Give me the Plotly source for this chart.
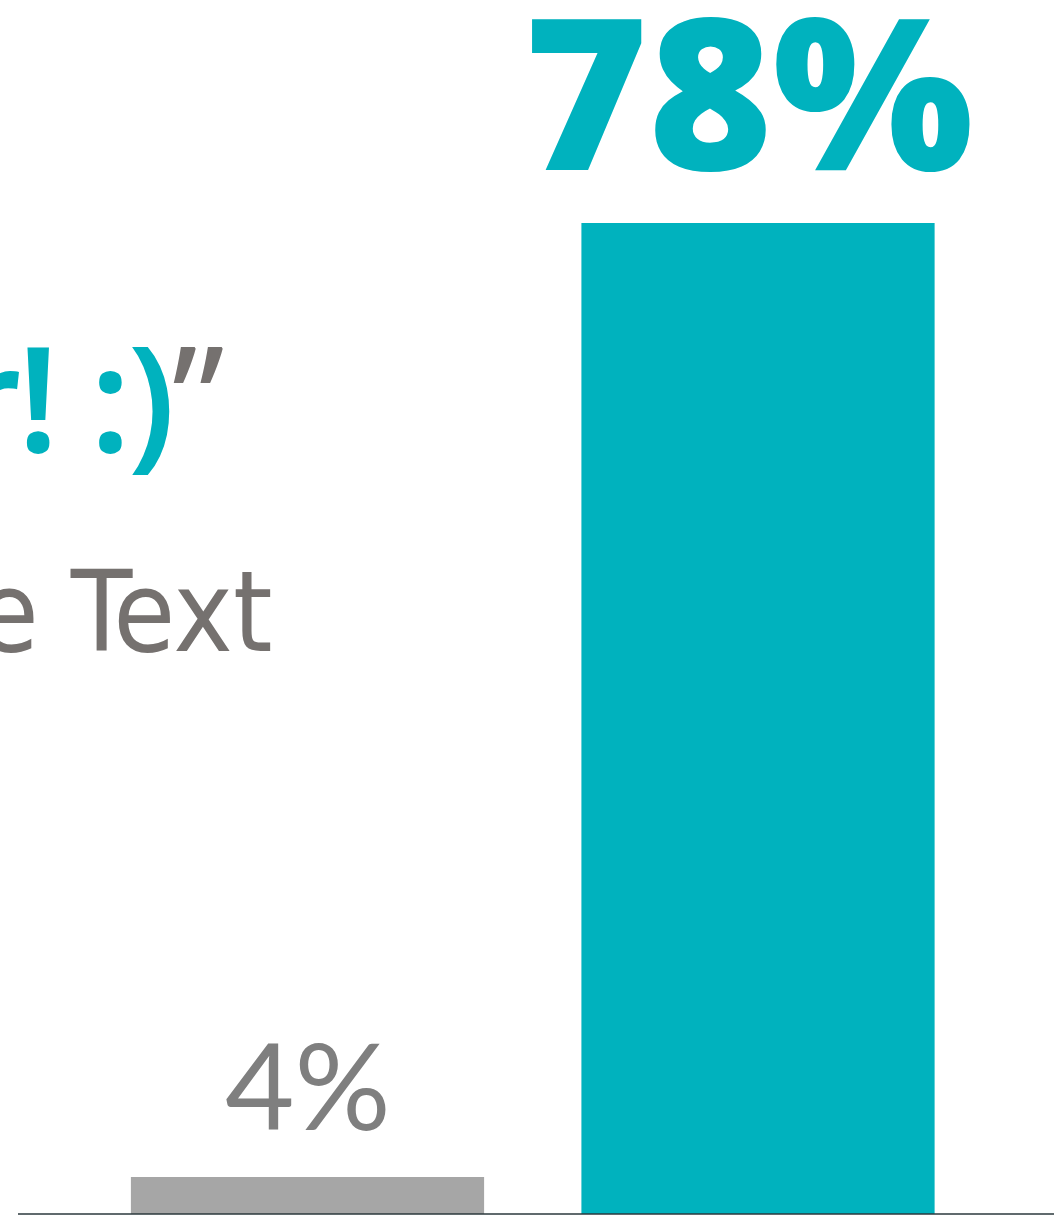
import plotly.graph_objects as go

categories = ["Other", "Yes"]
values = [4, 78]
value_labels = ["4%", "78%"]
bar_colors = ["#A6A6A6", "#00B2BE"]
label_colors = ["#7F7F7F", "#00B2BE"]

quote_text = "Super! :)"
free_text = "Free Text"

TEAL = "#00B2BE"
GRAY_TXT = "#75716F"
NARROW = "Noto Sans"

fig = go.Figure()
fig.add_trace(go.Bar(
    x=categories, y=values,
    marker=dict(color=bar_colors, line=dict(width=0)),
    width=[0.784, 0.784],
    hoverinfo="skip",
))

# value labels above bars
fig.add_annotation(x=categories[0], y=values[0], text=value_labels[0],
                   showarrow=False, yanchor="bottom", yshift=19,
                   font=dict(family="Lato", size=120, color=label_colors[0]))
fig.add_annotation(x=categories[1], y=values[1],
                   text=f"<span style='font-stretch:75%'>{value_labels[1]}</span>",
                   showarrow=False, yanchor="bottom", yshift=-11, xshift=-10,
                   font=dict(family="Noto Sans SemiCondensed, Noto Sans", size=212,
                             color=label_colors[1], weight=900))

# partially visible texts on the left
fig.add_annotation(xref="paper", yref="paper", x=(225 - 18) / 1036, y=(1214 - 396) / 1214,
                   xanchor="right", yanchor="middle", showarrow=False,
                   text=(f"<span style='font-stretch:62.5%;letter-spacing:-3px'>"
                         f"<span style='color:{GRAY_TXT}'>“</span>"
                         f"{quote_text}"
                         f"<span style='color:{GRAY_TXT};font-weight:normal'>”</span></span>"),
                   font=dict(family=NARROW, size=146, color=TEAL, weight=600))
fig.add_annotation(xref="paper", yref="paper", x=(274 - 18) / 1036, y=(1214 - 612) / 1214,
                   xanchor="right", yanchor="middle", showarrow=False,
                   text=f"<span style='font-stretch:62.5%'>{free_text}</span>",
                   font=dict(family="Noto Sans ExtraCondensed, DejaVu Sans Condensed",
                             size=112, color=GRAY_TXT))

fig.update_layout(
    width=1054, height=1215,
    margin=dict(l=18, r=0, t=0, b=1),
    paper_bgcolor="white", plot_bgcolor="white",
    showlegend=False,
    xaxis=dict(type="category", range=[-0.6426, 1.657], showticklabels=False,
               showgrid=False, zeroline=False, showline=False, ticks=""),
    yaxis=dict(range=[1.13, 95.30], visible=False, showgrid=False, zeroline=False),
)
fig.add_shape(type="line", xref="paper", yref="paper", x0=0, x1=1, y0=0, y1=0,
              line=dict(color="#2B383D", width=1.5))

fig.write_html("out.html", config={"displayModeBar": False},
               post_script="document.body.style.margin='0';document.body.style.padding='0';")
